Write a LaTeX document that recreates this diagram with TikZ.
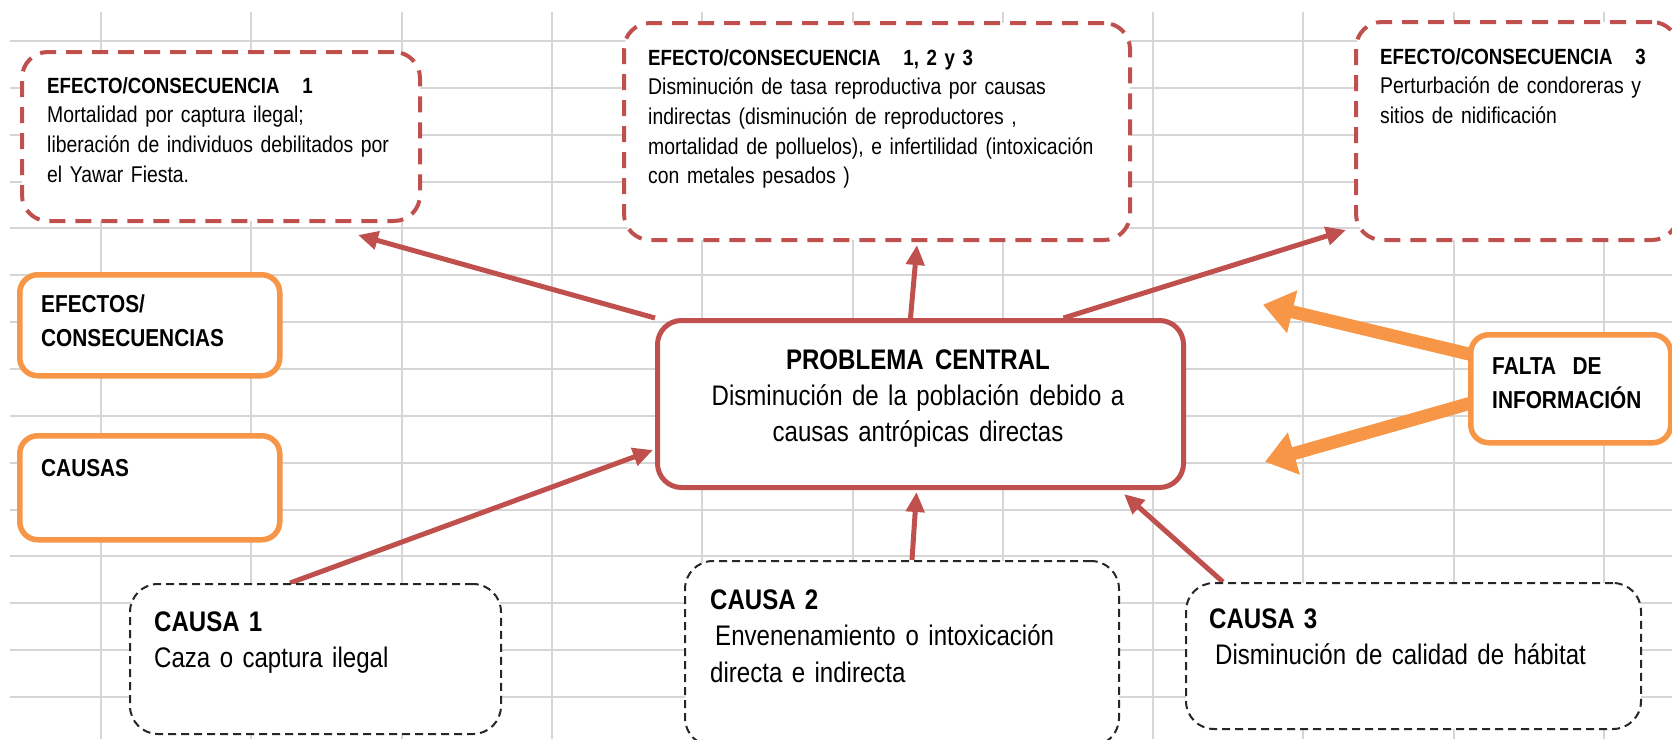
\documentclass[tikz,border=0pt]{standalone}
\usepackage{fontspec}
\setmainfont{Liberation Sans}[FakeStretch=0.85]
\usetikzlibrary{arrows.meta,calc}
\definecolor{cred}{HTML}{C0504D}
\definecolor{corange}{HTML}{F79646}
\definecolor{cgrid}{HTML}{D6D6D6}
\pgfdeclarelayer{gridlayer}
\pgfdeclarelayer{arrowlayer}
\pgfsetlayers{gridlayer,arrowlayer,main}
\newcommand{\efftitle}[1]{{\fontsize{22}{30}\selectfont\bfseries #1}}
\begin{document}
\begin{tikzpicture}[x=1pt,y=-1pt,
  gridline/.style={cgrid, line width=2pt},
  effbox/.style={draw=cred, line width=4pt, dash pattern=on 16pt off 10pt, rounded corners=26pt, fill=white, inner sep=0pt, anchor=north west},
  centbox/.style={draw=cred, line width=5pt, rounded corners=24pt, fill=white, inner sep=0pt, anchor=north west},
  keybox/.style={draw=corange, line width=5.5pt, rounded corners=18pt, fill=white, inner sep=0pt, anchor=north west},
  causebox/.style={draw=black!85, line width=2pt, dash pattern=on 8pt off 5pt, rounded corners=28pt, fill=white, inner sep=0pt, anchor=north west},
  redarrow/.style={draw=cred, line width=5pt, -{Triangle[length=20pt,width=18pt]}},
  orarrow/.style={draw=corange, line width=13pt, -{Triangle[length=30pt,width=42pt]}},
  efftxt/.style={inner sep=0pt, anchor=base west, align=left, text width=520pt, font=\fontsize{22.8}{29.7}\selectfont},
  bigtxt/.style={inner sep=0pt, anchor=base west, align=left, text width=520pt, font=\fontsize{28.3}{36.5}\selectfont},
  keytxt/.style={inner sep=0pt, anchor=base west, align=left, text width=300pt, font=\fontsize{24.5}{34}\selectfont\bfseries}
]
\begin{pgfonlayer}{gridlayer}
\fill[white] (0,0) rectangle (1672,739);
\end{pgfonlayer}
\useasboundingbox (0,0) rectangle (1672,739);
\clip (0,0) rectangle (1672,739);

% boxes
\node[effbox, minimum width=398pt, minimum height=169pt] (e1) at (20,50) {};
\node[effbox, minimum width=506pt, minimum height=217pt] (e123) at (622,21) {};
\node[effbox, minimum width=322pt, minimum height=218pt] (e3) at (1354,20) {};
\node[keybox, minimum width=260pt, minimum height=101pt] (efkey) at (17,272) {};
\node[keybox, minimum width=260pt, minimum height=104pt] (caukey) at (17,433) {};
\node[centbox, minimum width=526pt, minimum height=167pt] (central) at (655,318) {};
\node[keybox, minimum width=200pt, minimum height=108pt] (falta) at (1468,332) {};
\node[causebox, minimum width=371pt, minimum height=150pt] (c1) at (129,583) {};
\node[causebox, minimum width=434pt, minimum height=185pt] (c2) at (684,560) {};
\node[causebox, minimum width=455pt, minimum height=146pt] (c3) at (1185,582) {};

% texts
\node[efftxt] (e1t) at (47,93) {\efftitle{EFECTO/CONSECUENCIA\ \ \ 1}\\Mortalidad por captura ilegal;\\liberación de individuos debilitados por\\el Yawar Fiesta.};
\node[efftxt] (e123t) at (648,65) {\efftitle{EFECTO/CONSECUENCIA\ \ \ 1, 2 y 3}\\Disminución de tasa reproductiva por causas\\indirectas (disminución de reproductores ,\\mortalidad de polluelos), e infertilidad (intoxicación\\con metales pesados )};
\node[efftxt] (e3t) at (1380,64) {\efftitle{EFECTO/CONSECUENCIA\ \ \ 3}\\Perturbación de condoreras y\\sitios de nidificación};
\node[keytxt] (efkeyt) at (41,312) {EFECTOS/\\CONSECUENCIAS};
\node[keytxt] (caukeyt) at (41,476) {CAUSAS};
\node[keytxt] (faltat) at (1492,374) {FALTA\ \ DE\\INFORMACIÓN};
\node[inner sep=0pt, anchor=base, align=center, text width=520pt, font=\fontsize{28.3}{36}\selectfont] (centt) at (918,369) {\textbf{PROBLEMA\hspace{0.4em}CENTRAL}\\Disminución de la población\hspace{0.35em}debido a\\causas antrópicas\hspace{0.35em}directas};
\node[bigtxt] (c1t) at (154,631) {\textbf{CAUSA\hspace{0.32em}1}\\Caza o captura ilegal};
\node[bigtxt] (c2t) at (710,609) {\textbf{CAUSA\hspace{0.32em}2}\\\hspace*{5pt}Envenenamiento\hspace{0.35em}o intoxicación\\directa e indirecta};
\node[bigtxt] (c3t) at (1209,628) {\textbf{CAUSA\hspace{0.32em}3}\\\hspace*{6pt}Disminución de calidad de hábitat};

% grid
\begin{pgfonlayer}{gridlayer}
\foreach \i in {0,...,10} \draw[gridline] (101+150.3*\i,12) -- (101+150.3*\i,739);
\foreach \j in {0,...,14} \draw[gridline] (10,41+46.86*\j) -- (1672,41+46.86*\j);
\end{pgfonlayer}

% connectors
\begin{pgfonlayer}{arrowlayer}
\draw[redarrow] (central.north west) -- ($(e1.south east)+(-64,12)$);
\draw[redarrow] ($(central.north)+(-10,0)$) -- ($(e123.south)+(40,3)$);
\draw[redarrow] ($(central.north)+(143,0)$) -- ($(e3.south west)+(-8,-12)$);
\draw[redarrow] ($(c1.north west)+(161,0)$) -- ($(central.west)+(-2,46)$);
\draw[redarrow] ($(c2.north)+(10,0)$) -- ($(central.south)+(-4,2)$);
\draw[redarrow] ($(c3.north west)+(38,0)$) -- ($(central.south east)+(-62,4)$);
\draw[orarrow] ($(falta.west)+(4,-34)$) -- ($(falta.west)+(-205,-84)$);
\draw[orarrow] ($(falta.west)+(4,14)$) -- ($(falta.west)+(-203,73)$);
\end{pgfonlayer}
\end{tikzpicture}
\end{document}
